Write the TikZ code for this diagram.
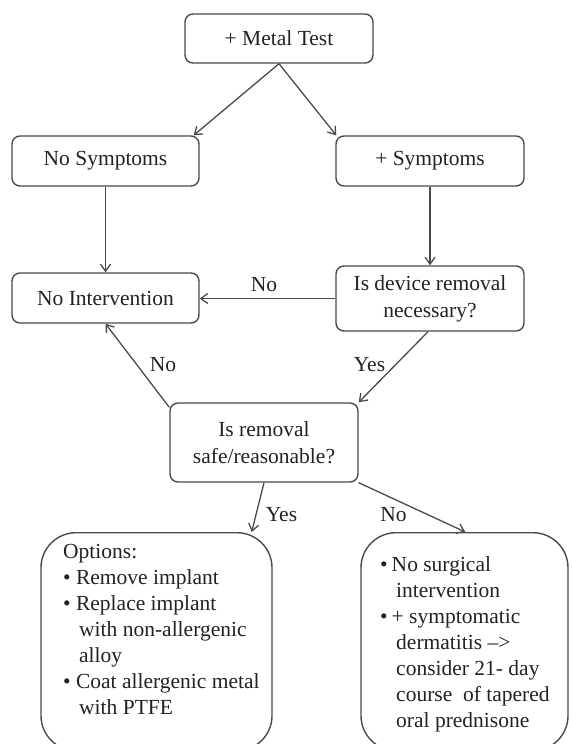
\documentclass[tikz,border=0pt]{standalone}
\usepackage{fontspec}
\setmainfont{Liberation Serif}
\usetikzlibrary{arrows.meta,calc}
\definecolor{linegray}{HTML}{4A4A4A}
\definecolor{textgray}{HTML}{222222}
\begin{document}
\begin{tikzpicture}[x=1pt,y=-1pt,
  box/.style={draw=linegray, line width=1.4pt, rounded corners=8pt, align=center,
    inner sep=0pt, text=textgray, font=\fontsize{21.5}{27}\selectfont},
  bigbox/.style={draw=linegray, line width=1.4pt, rounded corners=35pt, inner sep=0pt},
  conn/.style={draw=linegray, line width=1.3pt, -{Straight Barb[length=7pt,width=10pt]}},
  lbl/.style={text=textgray, font=\fontsize{21.5}{26}\selectfont, inner sep=0pt, anchor=base},
  bodytext/.style={text=textgray, font=\fontsize{21.5}{26}\selectfont, inner sep=0pt, anchor=base west},
]
\useasboundingbox (0,0) rectangle (571,744);
\clip (0,0) rectangle (571,744);

\node[box, minimum width=188pt, minimum height=49pt] (metal) at (279,38.5) {+ Metal Test};
\node[box, minimum width=187pt, minimum height=50pt] (nosym) at (105.5,161) {No Symptoms};
\node[box, minimum width=188pt, minimum height=50pt] (sym) at (430,161) {+ Symptoms};
\node[box, minimum width=187pt, minimum height=50pt] (noint) at (105.5,298) {No Intervention};
\node[box, minimum width=188pt, minimum height=65pt] (device) at (430,298.5) {Is device removal\\necessary?};
\node[box, minimum width=188pt, minimum height=79pt] (safe) at (264,442.5) {Is removal\\safe/reasonable?};
\node[bigbox, minimum width=231pt, minimum height=218pt, anchor=north] (opts) at (156.5,532) {};
\node[bigbox, minimum width=207pt, minimum height=218pt, anchor=north] (nosurg) at (464.5,532) {};

\node[bodytext] (optstext) at (63,558) {\parbox[t]{210pt}{\raggedright
Options:\\
•\ Remove implant\\
•\ Replace implant\\
\hspace*{16pt}with non-allergenic\\
\hspace*{16pt}alloy\\
•\ Coat allergenic metal\\
\hspace*{16pt}with PTFE}};

\node[bodytext] (nosurgtext) at (380,571) {\parbox[t]{185pt}{\raggedright
•\hspace{4pt}No surgical\\
\hspace*{16pt}intervention\\
•\hspace{4pt}+ symptomatic\\
\hspace*{16pt}dermatitis \textendash>\\
\hspace*{16pt}consider 21- day\\
\hspace*{16pt}course\ \ of tapered\\
\hspace*{16pt}oral prednisone}};

\draw[conn] (metal.south) -- ([xshift=-6pt]nosym.north east);
\draw[conn] (metal.south) -- ([xshift=1pt]sym.north west);
\draw[conn] (nosym.south) -- (noint.north);
\draw[conn] (sym.south) -- (device.north);
\draw[conn] (device.west) -- (device.west -| noint.east);
\draw[conn] ([xshift=-2pt]device.south) -- (safe.north east);
\draw[conn] ([yshift=-5pt]safe.north west) -- (noint.south);
\draw[conn] (safe.south) -- ([xshift=-21pt]opts.north east);
\draw[conn] (safe.south east) -- ([xshift=105pt]nosurg.north west);

\node[lbl] (l1) at (264,291) {No};
\node[lbl] (l2) at (369.5,371) {Yes};
\node[lbl] (l3) at (163,371) {No};
\node[lbl] (l4) at (281.5,521) {Yes};
\node[lbl] (l5) at (393.5,521) {No};
\end{tikzpicture}
\end{document}
